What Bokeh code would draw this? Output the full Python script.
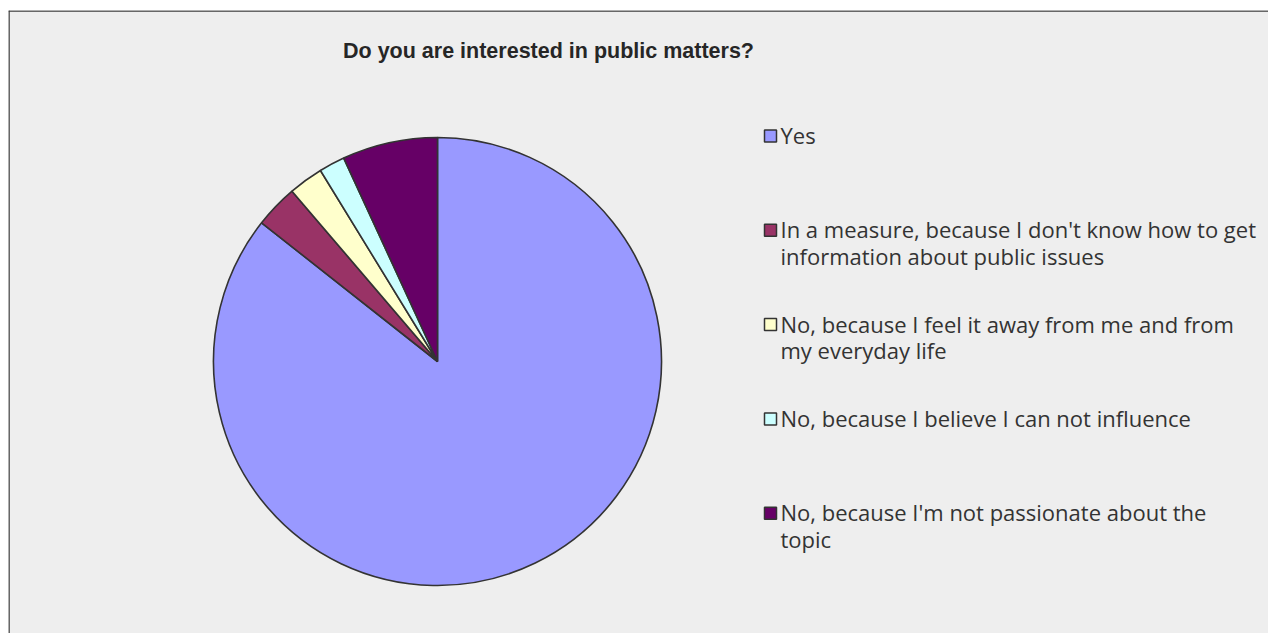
from math import pi
from bokeh.plotting import figure
from bokeh.models import Range1d, ColumnDataSource, Span
from bokeh.core.properties import value
from bokeh.embed import file_html
from bokeh.resources import INLINE

title_text = "Do you are interested in public matters?"
categories = [
    "Yes",
    "In a measure, because I don't know how to get\ninformation about public issues",
    "No, because I feel it away from me and from\nmy everyday life",
    "No, because I believe I can not influence",
    "No, because I'm not passionate about the\ntopic",
]
counts = [137, 5, 4, 3, 11]
colors = ["#9999FF", "#993366", "#FFFFCC", "#CCFFFF", "#660066"]

W, H = 1268, 633
LEFT, TOP = 8, 10
# data coordinates: x = pixel x, y = H - pixel y
p = figure(width=W, height=H, output_backend="svg", toolbar_location=None,
           x_range=Range1d(LEFT, W), y_range=Range1d(0, H - TOP),
           min_border_left=LEFT, min_border_right=0, min_border_bottom=0, min_border_top=TOP)
p.axis.visible = False
p.grid.visible = False
p.background_fill_color = "#EEEEEE"
p.border_fill_color = "white"
p.outline_line_color = None

# frame edges (left/top) like the reference
p.add_layout(Span(location=LEFT + 0.5, dimension="height", line_color="#3a3a3a", line_width=1.5))
p.add_layout(Span(location=H - TOP - 0.5, dimension="width", line_color="#3a3a3a", line_width=1.5))

total = sum(counts)
starts, ends = [], []
cum = 0
for c in counts:
    starts.append(pi / 2 - 2 * pi * cum / total)
    cum += c
    ends.append(pi / 2 - 2 * pi * cum / total)

cx, cy, r = 437, H - 361, 224
src = ColumnDataSource(dict(start=starts, end=ends, color=colors))
p.wedge(x=cx, y=cy, radius=r, start_angle="start", end_angle="end", direction="clock",
        fill_color="color", line_color="#333333", line_width=1.6, source=src)

# title
p.text(x=[548], y=[H - 50.5], text=[title_text], text_font=value("Liberation Sans"),
       text_font_size="21.5px", text_font_style="bold", text_color="#262626",
       text_align="center", text_baseline="middle")

# legend
leg_x, mid0, leg_step, line_h = 770, 135.5, 94.3, 26.5
mx, my, tx, ty, tt = [], [], [], [], []
for i, lab in enumerate(categories):
    m = mid0 + i * leg_step
    mx.append(leg_x)
    my.append(H - m)
    for j, line in enumerate(lab.split("\n")):
        tx.append(leg_x + 10)
        ty.append(H - (m - 1 + j * line_h))
        tt.append(line)
p.scatter(x=mx, y=my, marker="square", size=12, fill_color=colors,
          line_color="#333333", line_width=1.5)
p.text(x=tx, y=ty, text=tt, text_font=value("Open Sans"), text_font_size="22px",
       text_color="#333333", text_baseline="middle", text_align="left")

open("out.html", "w").write(file_html(p, INLINE))
